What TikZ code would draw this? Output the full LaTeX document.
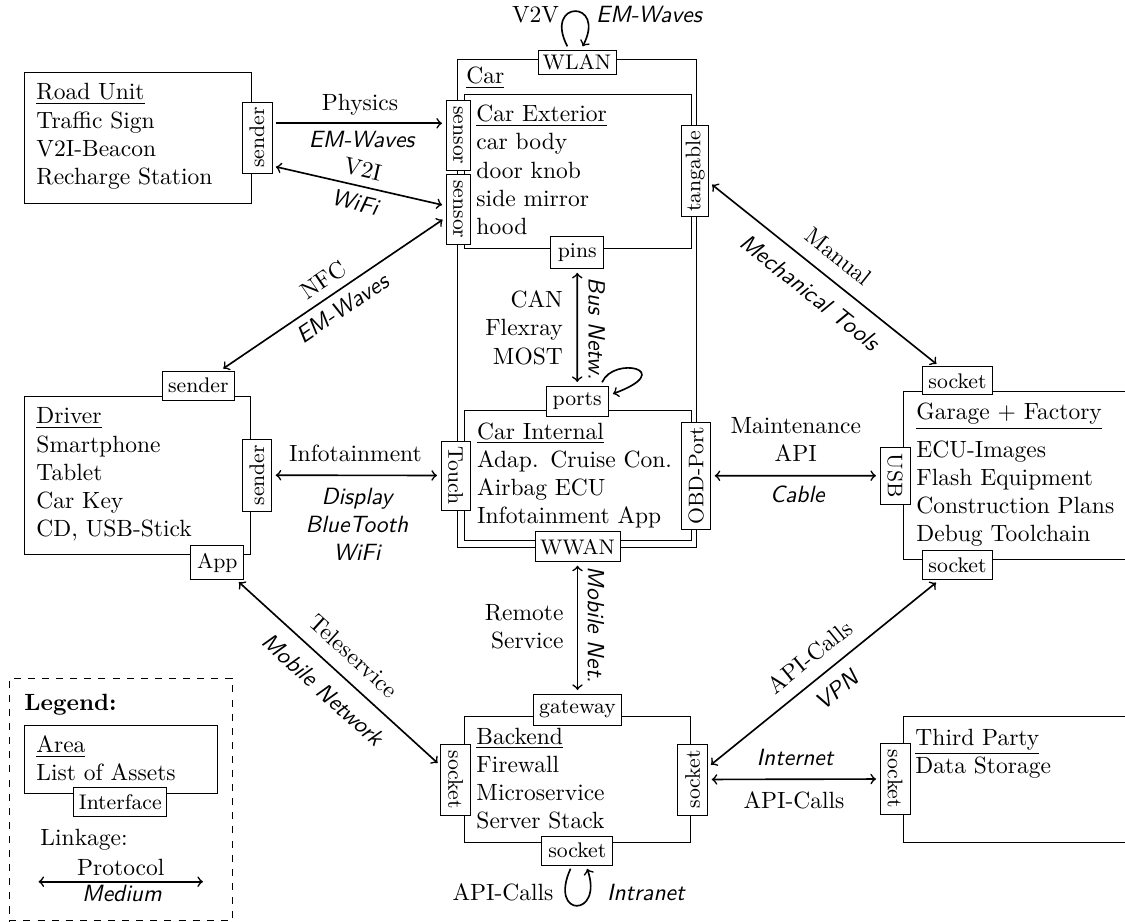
\documentclass[tikz,border=0pt]{standalone}
\usepackage{graphicx}
\usetikzlibrary{calc}
\newcommand{\pxu}{0.4255pt}
\newcommand{\rotup}[1]{\rotatebox{90}{#1}}
\newcommand{\rotdn}[1]{\rotatebox{-90}{#1}}
\tikzset{
  sz/.style 2 args={minimum width=#1*\pxu, minimum height=#2*\pxu},
  areabox/.style={draw, line width=0.4pt, inner sep=0pt},
  iface/.style={draw, fill=white, line width=0.4pt, font=\small, inner sep=0pt},
  assets/.style={anchor=base west, align=left, inner sep=0pt, text width=6cm},
  conn/.style={line width=0.7pt, shorten >=1.5pt, shorten <=1.5pt},
  medium/.style={font=\sffamily\itshape},
  lbl/.style={inner sep=0pt, anchor=base},
  rlbl/.style={anchor=base east, inner sep=0pt, align=right, text width=2.5cm},
  clbl/.style={anchor=base, inner sep=0pt, align=center, text width=3.5cm},
}
\begin{document}
\begin{tikzpicture}[x=\pxu, y=-\pxu]
\useasboundingbox (0,0) rectangle (1125,922);
\clip (0,0) rectangle (1125,922);

% ---- areas ----
\node[areabox, sz={227}{131}]       (road)    at (137.5,137.5) {};
\node[areabox, sz={239.4}{488}]     (car)     at (577,303.3) {};
\node[areabox, sz={226.7}{154}]     (carext)  at (577.65,171.3) {};
\node[areabox, sz={226.7}{129.3}]   (carint)  at (577.65,475.35) {};
\node[areabox, sz={226.7}{158.3}]   (driver)  at (137.35,475.15) {};
\node[areabox, sz={236.7}{167.6}]   (garage)  at (1021.65,475.5) {};
\node[areabox, sz={226.7}{126.7}]   (backend) at (577.35,779.35) {};
\node[areabox, sz={236.7}{126}]     (third)   at (1021.65,779.7) {};

% ---- area contents ----
\node[assets] (roadtxt) at (36,100) {\underline{Road Unit}\\Traffic Sign\\V2I-Beacon\\Recharge Station};
\node[assets] (cartxt) at (466,84) {\underline{Car}};
\node[assets] (exttxt) at (476,121.7) {\underline{Car Exterior}\\car body\\door knob\\side mirror\\hood};
\node[assets] (inttxt) at (476.7,439) {\underline{Car Internal}\\Adap. Cruise Con.\\Airbag ECU\\Infotainment App};
\node[assets] (drvtxt) at (36,424) {\underline{Driver}\\Smartphone\\Tablet\\Car Key\\CD, USB-Stick};
\node[assets] (gartxt) at (916,420) {\underline{Garage + Factory}\\[3.9pt]ECU-Images\\Flash Equipment\\Construction Plans\\Debug Toolchain};
\node[assets] (bektxt) at (476,744.3) {\underline{Backend}\\Firewall\\Microservice\\Server Stack};
\node[assets] (thdtxt) at (915,745) {\underline{Third Party}\\Data Storage};

% ---- interfaces ----
\node[iface, sz={30}{71}]      (rusnd) at (257,137.5)   {\rotup{sender}};
\node[iface, sz={24}{69.5}]    (sensA) at (458,135.3)   {\rotdn{sensor}};
\node[iface, sz={24}{70}]      (sensB) at (458,209.3)   {\rotdn{sensor}};
\node[iface, sz={78}{24}]      (wlan)  at (577,62)      {WLAN};
\node[iface, sz={27}{90.7}]    (tang)  at (695.3,171.3) {\rotup{tangable}};
\node[iface, sz={52.7}{32}]    (pins)  at (577.3,252.8) {pins};
\node[iface, sz={62}{30}]      (ports) at (577.2,401)   {ports};
\node[iface, sz={29}{69}]      (touch) at (455.5,475.5) {\rotdn{Touch}};
\node[iface, sz={29}{107}]     (obd)   at (696.2,475.8) {\rotup{OBD-Port}};
\node[iface, sz={85}{30}]      (wwan)  at (577.5,546.7) {WWAN};
\node[iface, sz={72}{29}]      (dsndt) at (198.3,385.5) {sender};
\node[iface, sz={29.4}{71.7}]  (dsndr) at (257,475.2)   {\rotup{sender}};
\node[iface, sz={53.3}{33.6}]  (app)   at (217.3,562.5) {App};
\node[iface, sz={70.3}{28.3}]  (gtop)  at (957.5,380.8) {socket};
\node[iface, sz={30}{56.7}]    (usb)   at (895,475.7)   {\rotdn{USB}};
\node[iface, sz={70.3}{29.3}]  (gbot)  at (957.5,565.3) {socket};
\node[iface, sz={87.7}{31}]    (gate)  at (577.5,709.5) {gateway};
\node[iface, sz={30}{71}]      (bls)   at (455.7,779.5) {\rotdn{socket}};
\node[iface, sz={30}{71}]      (brs)   at (692.7,779.5) {\rotup{socket}};
\node[iface, sz={70.7}{29}]    (bbot)  at (577.3,850.5) {socket};
\node[iface, sz={30}{71.7}]    (tps)   at (895,779)     {\rotdn{socket}};

% ---- links ----
% road unit -> car exterior
\coordinate (physA) at ([shift={(0,-14.2)}]rusnd.east);
\draw[conn,->] (physA) -- (physA -| sensA.west);
\node[lbl] (physlbl) at (360,110.7) {Physics};
\node[lbl, medium] (physmed) at (361.7,147.3) {EM-Waves};
\draw[conn,<->] ([shift={(0,28.5)}]rusnd.east) -- ([shift={(0,-3.6)}]sensB.west)
  node[midway, sloped, above] {V2I}
  node[midway, sloped, below, medium] {WiFi};

% driver <-> car
\draw[conn,<->] (dsndt) -- (sensB)
  node[midway, sloped, above] {NFC}
  node[midway, sloped, below, medium] {EM-Waves};
\draw[conn,<->] (dsndr) -- (touch);
\node[lbl] (infolbl) at (355.5,461.7) {Infotainment};
\node[clbl, medium] (infomed) at (357,504) {Display\\BlueTooth\\WiFi};

% driver <-> backend
\draw[conn,<->] (app) -- (bls)
  node[midway, sloped, above=2.5pt] {Teleservice}
  node[midway, sloped, below=2.5pt, medium] {Mobile Network};

% in-car bus
\draw[conn,<->] (pins) -- (ports);
\node[rlbl] (buslbl) at (563.3,307.7) {CAN\\Flexray\\MOST};
\node[medium, rotate=-90, inner sep=0pt] (busmed) at (596.7,329) {Bus Netw.};
\draw[conn,->] ([shift={(-8,0)}]ports.north east) .. controls +(13,-30) and +(68,-25) .. ([shift={(1,-6)}]ports.east);

% V2V
\draw[conn,->] ([shift={(-8,0)}]wlan.north) .. controls +(-26,-50) and +(26,-50) .. ([shift={(4,0)}]wlan.north);
\node[lbl] (v2vlbl) at (535.5,22.7) {V2V};
\node[lbl, medium] (v2vmed) at (649,22.7) {EM-Waves};

% car <-> backend
\draw[conn,<->] (wwan) -- (gate);
\node[rlbl] (remlbl) at (564,620) {Remote\\Service};
\node[medium, rotate=-90, inner sep=0pt] (remmed) at (596,625) {Mobile Net.};

% backend intranet
\draw[conn,->] ([shift={(-5.3,0)}]bbot.south) .. controls +(-24,53) and +(18,52) .. ([shift={(8.7,0)}]bbot.south);
\node[lbl] (intlbl) at (503,900) {API-Calls};
\node[lbl, medium] (intmed) at (645.8,900) {Intranet};

% car <-> garage
\draw[conn,<->] (tang) -- (gtop)
  node[midway, sloped, above=2.5pt] {Manual}
  node[midway, sloped, below=2.5pt, medium] {Mechanical Tools};
\draw[conn,<->] (obd) -- (usb);
\node[clbl] (mntlbl) at (795.8,433.3) {Maintenance\\API};
\node[lbl, medium] (mntmed) at (797.3,502.7) {Cable};

% backend <-> garage, third party
\draw[conn,<->] (brs) -- (gbot)
  node[midway, sloped, above=1.8pt] {API-Calls}
  node[midway, sloped, below=1.8pt, medium] {VPN};
\draw[conn,<->] (brs) -- (tps);
\node[lbl, medium] (netmed) at (795,765) {Internet};
\node[lbl] (netlbl) at (794,808) {API-Calls};

% ---- legend ----
\node[areabox, dashed, sz={223}{242.4}] (legend) at (120.8,799.5) {};
\node[anchor=base west, inner sep=0pt, font=\bfseries] (legtitle) at (24,710) {Legend:};
\node[areabox, sz={193.3}{68.3}] (legarea) at (120.65,759.15) {};
\node[assets] (legtxt) at (36,752.7) {\underline{Area}\\List of Assets};
\node[iface, sz={92.7}{29.4}] (legif) at (120.3,802) {Interface};
\node[anchor=base west, inner sep=0pt] (leglink) at (40,845) {Linkage:};
\coordinate (legL) at (38.5,881.7);
\coordinate (legR) at (203,881.7);
\draw[conn, shorten <=0pt, shorten >=0pt, <->] (legL) -- (legR);
\node[lbl] (legproto) at (120.8,875) {Protocol};
\node[lbl, medium] (legmed) at (122,901.7) {Medium};
\end{tikzpicture}
\end{document}
